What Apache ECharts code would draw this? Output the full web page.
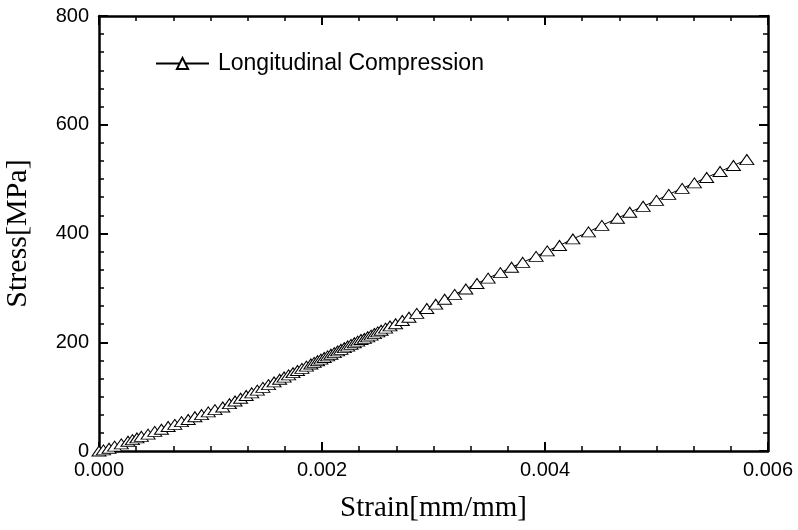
<!DOCTYPE html>
<html>
<head>
<meta charset="utf-8">
<script src="https://cdn.jsdelivr.net/npm/echarts@6/dist/echarts.min.js"></script>
<style>
  html, body { margin: 0; padding: 0; background: #fff; }
  #chart { width: 798px; height: 530px; }
</style>
</head>
<body>
<div id="chart"></div>
<script>
// Strain readings (mm/mm) and the matching stress (MPa)
const strain = [
  0.00000, 0.00004, 0.00009, 0.00014, 0.00020, 0.00026, 0.00030, 0.00034,
  0.00038, 0.00044, 0.00050, 0.00056, 0.00062, 0.00068, 0.00074, 0.00080,
  0.00086, 0.00092, 0.00098, 0.00104, 0.00111, 0.00117, 0.00122, 0.00127,
  0.00132, 0.00137, 0.00142, 0.00147, 0.00152, 0.00157, 0.00162, 0.00166,
  0.00170, 0.00174, 0.00178, 0.00182, 0.00186, 0.00190, 0.00193, 0.00196,
  0.00199, 0.00202, 0.00205, 0.00208, 0.00211, 0.00214, 0.00217, 0.00220,
  0.00223, 0.00226, 0.00229, 0.00232, 0.00235, 0.00238, 0.00241, 0.00244,
  0.00247, 0.00250, 0.00253, 0.00257, 0.00261, 0.00266, 0.00272, 0.00278,
  0.00285, 0.00294, 0.00302, 0.00310, 0.00319, 0.00329, 0.00339, 0.00349,
  0.00360, 0.00370, 0.00380, 0.00392, 0.00402, 0.00413, 0.00425, 0.00439,
  0.00451, 0.00465, 0.00476, 0.00488, 0.00500, 0.00511, 0.00523, 0.00534,
  0.00545, 0.00557, 0.00569, 0.00581
];
const stress = [
  0, 2, 5, 9, 13, 18, 21, 24,
  27, 31, 36, 40, 45, 49, 54, 58,
  63, 67, 72, 76, 81, 87, 92, 97,
  102, 107, 112, 117, 122, 127, 132, 136,
  140, 144, 148, 152, 156, 160, 163, 166,
  169, 172, 175, 178, 181, 184, 187, 190,
  193, 196, 199, 202, 205, 207, 210, 213,
  216, 219, 222, 226, 230, 234, 240, 246,
  253, 262, 270, 279, 288, 298, 308, 318,
  328, 338, 347, 358, 368, 378, 390, 403,
  415, 428, 439, 450, 461, 472, 483, 493,
  503, 514, 525, 536
];

const xTicks = { min: 0, max: 0.006, step: 0.002 };
const yTicks = { min: 0, max: 800, step: 200 };

const points = strain.map((s, i) => [s, stress[i]]);

const sans = 'Liberation Sans, Arial, sans-serif';
const serif = 'Liberation Serif, Times New Roman, serif';

function frameAxis(extra) {
  return Object.assign({
    axisLine: { show: true, onZero: false, lineStyle: { color: '#000', width: 2.5 } },
    axisTick: { show: true, inside: true, length: 9, lineStyle: { color: '#000', width: 2 } },
    minorTick: { show: true, splitNumber: 6, length: 5, lineStyle: { color: '#000', width: 1.5 } },
    splitLine: { show: false },
    minorSplitLine: { show: false }
  }, extra);
}

const chart = echarts.init(document.getElementById('chart'), null, { renderer: 'canvas' });

chart.setOption({
  backgroundColor: '#fff',
  animation: false,
  grid: {
    left: 99, right: 30, top: 16, bottom: 79,
    containLabel: false, outerBoundsMode: 'none'
  },
  legend: {
    left: 155,
    top: 52,
    padding: 0,
    itemWidth: 53,
    itemHeight: 14,
    textStyle: { fontFamily: sans, fontSize: 23, color: '#000', padding: [0, 0, 0, 4] },
    data: ['Longitudinal Compression']
  },
  xAxis: [
    frameAxis({
      type: 'value', position: 'bottom',
      min: xTicks.min, max: xTicks.max, interval: xTicks.step,
      name: 'Strain[mm/mm]', nameLocation: 'middle', nameGap: 43,
      nameTextStyle: { fontFamily: serif, fontSize: 29, color: '#000' },
      axisLabel: {
        show: true, margin: 9, color: '#000', fontFamily: sans, fontSize: 20,
        formatter: v => v.toFixed(3)
      }
    }),
    frameAxis({
      type: 'value', position: 'top',
      min: xTicks.min, max: xTicks.max, interval: xTicks.step,
      axisLabel: { show: false }
    })
  ],
  yAxis: [
    frameAxis({
      type: 'value', position: 'left',
      min: yTicks.min, max: yTicks.max, interval: yTicks.step,
      name: 'Stress[MPa]', nameLocation: 'middle', nameGap: 66,
      nameTextStyle: { fontFamily: serif, fontSize: 30, color: '#000' },
      axisLabel: {
        show: true, margin: 10, color: '#000', fontFamily: sans, fontSize: 20,
        formatter: v => String(v)
      }
    }),
    frameAxis({
      type: 'value', position: 'right',
      min: yTicks.min, max: yTicks.max, interval: yTicks.step,
      axisLabel: { show: false }
    })
  ],
  series: [{
    name: 'Longitudinal Compression',
    type: 'line',
    xAxisIndex: 0,
    yAxisIndex: 0,
    data: points,
    symbol: 'triangle',
    symbolSize: [14, 10],
    showAllSymbol: true,
    clip: false,
    lineStyle: { color: '#000', width: 1 },
    itemStyle: { color: '#fff', borderColor: '#000', borderWidth: 1 }
  }]
});
</script>
</body>
</html>
